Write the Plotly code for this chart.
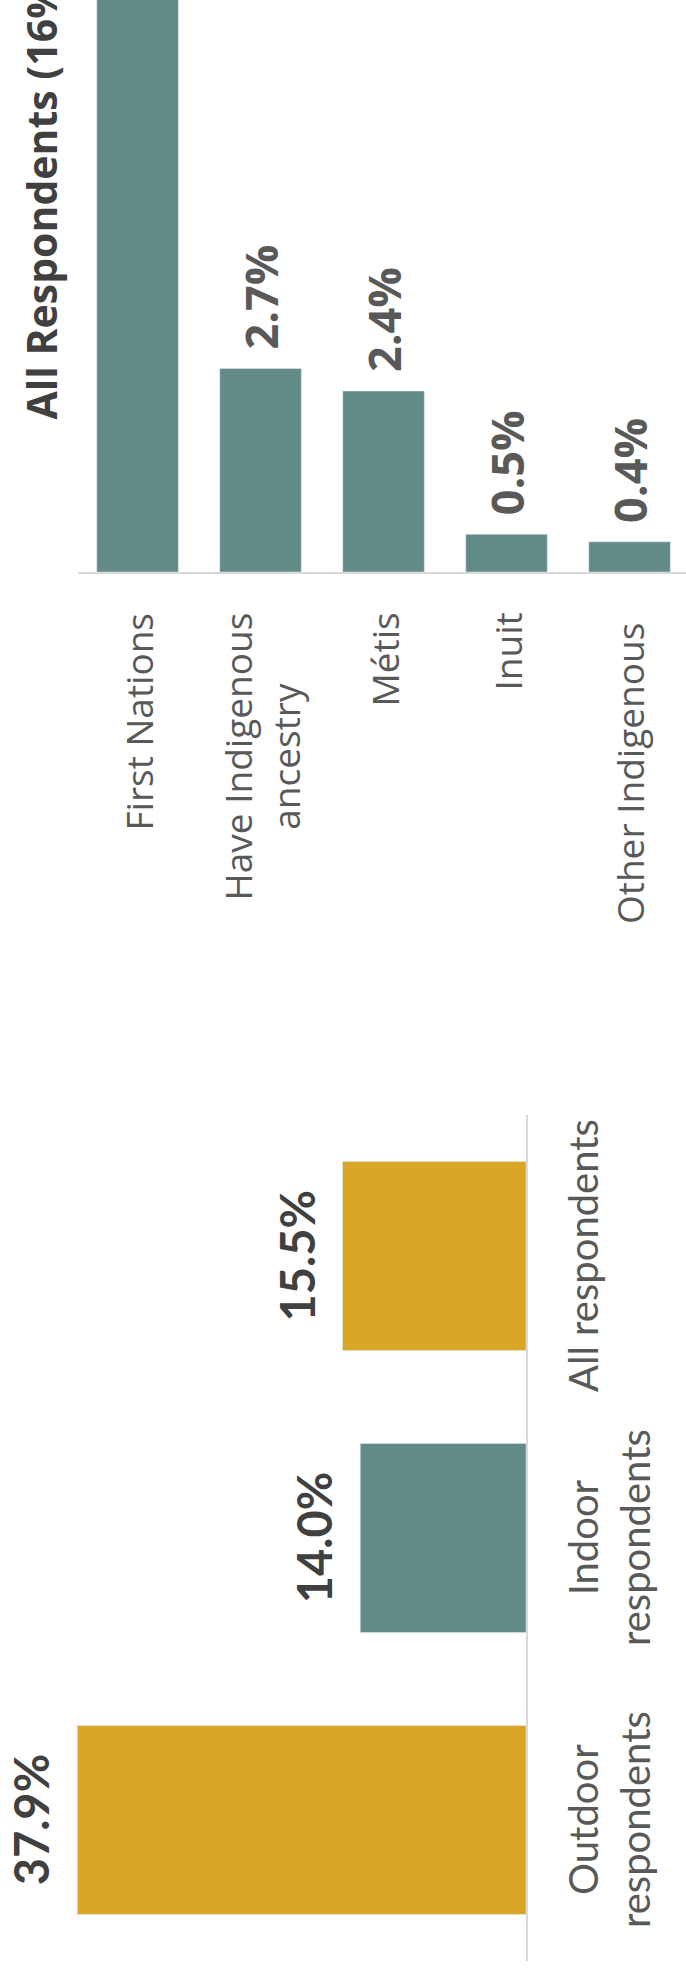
import plotly.graph_objects as go

# ---------------- data ----------------
title_text = "All Respondents (16%)"

top_categories = ["First Nations", "Have Indigenous ancestry", "Métis", "Inuit", "Other Indigenous"]
top_tick_text = ["First Nations", "Have Indigenous<br>ancestry", "Métis", "Inuit",
                 "Other Indigenous\u00a0"]
top_values = [9.5, 2.7, 2.4, 0.5, 0.4]
top_value_labels = ["9.5%", "2.7%", "2.4%", "0.5%", "0.4%"]

bottom_categories = ["Outdoor respondents", "Indoor respondents", "All respondents"]
bottom_tick_text = ["Outdoor<br>respondents", "Indoor<br>respondents", "All respondents"]
bottom_values = [37.9, 14.0, 15.5]
bottom_value_labels = ["37.9%", "14.0%", "15.5%"]

# ---------------- style ----------------
W, H = 686, 1969
TEAL = "#628A87"
GOLD = "#D9A628"
AXIS = "#D9D9D9"
DARK = "#404040"
GREY = "#595959"
bottom_colors = [GOLD, TEAL, GOLD]

fig = go.Figure()
fig.add_trace(go.Bar(
    x=top_categories, y=top_values, marker_color=TEAL, width=0.663,
    xaxis="x", yaxis="y", hoverinfo="skip", showlegend=False,
))
fig.add_trace(go.Bar(
    x=bottom_values, y=bottom_categories, orientation="h", marker_color=bottom_colors,
    width=0.67, xaxis="x2", yaxis="y2", hoverinfo="skip", showlegend=False,
))

ann = []
# title (rotated)
ann.append(dict(text=f"<b>{title_text}</b>", x=40 / W, y=1 - 422 / H, xref="paper", yref="paper",
                xanchor="center", yanchor="bottom", textangle=-90, showarrow=False,
                font=dict(family="Open Sans", size=41, color=DARK)))
# top category labels
for k, t in zip(top_categories, top_tick_text):
    ann.append(dict(text=t, x=k, xref="x", y=1 - 611 / H, yref="paper", xanchor="center",
                    yanchor="top", textangle=-90, align="center", showarrow=False,
                    font=dict(family="Open Sans", size=37, color=GREY)))
# top value labels
for k, v, lab in zip(top_categories, top_values, top_value_labels):
    ann.append(dict(text=f"<b>{lab}</b>", x=k, xref="x", y=v, yref="y", xanchor="center",
                    yanchor="bottom", yshift=17, textangle=-90, showarrow=False,
                    font=dict(family="Open Sans", size=45, color=GREY)))
# bottom category labels
for k, t in zip(bottom_categories, bottom_tick_text):
    ann.append(dict(text=t, x=557 / W, xref="paper", y=k, yref="y2", xanchor="left",
                    yanchor="middle", textangle=-90, align="center", showarrow=False,
                    font=dict(family="Lato", size=40, color=GREY)))
# bottom value labels
for k, v, lab in zip(bottom_categories, bottom_values, bottom_value_labels):
    ann.append(dict(text=f"<b>{lab}</b>", x=v, xref="x2", y=k, yref="y2", xanchor="right",
                    yanchor="middle", xshift=-16, textangle=-90, showarrow=False,
                    font=dict(family="Lato", size=47, color=DARK)))

fig.update_layout(
    width=W, height=H, margin=dict(l=0, r=0, t=0, b=0),
    paper_bgcolor="white", plot_bgcolor="white",
    annotations=ann, hovermode=False,
    xaxis=dict(domain=[78 / W, 1], range=[-0.484, 4.459], anchor="y",
               showline=True, linecolor=AXIS, linewidth=2, showticklabels=False,
               ticks="", showgrid=False, zeroline=False, fixedrange=True),
    yaxis=dict(domain=[1 - 572 / H, 1], range=[0, 7.586], anchor="x", visible=False,
               fixedrange=True),
    xaxis2=dict(domain=[0, 526 / W], range=[44.43, 0], anchor="y2", visible=False,
                fixedrange=True),
    yaxis2=dict(domain=[1 - 1961 / H, 1 - 1115 / H], range=[-0.5, 2.5], anchor="x2",
                side="right", showline=True, linecolor=AXIS, linewidth=2,
                showticklabels=False, ticks="", showgrid=False, zeroline=False,
                fixedrange=True),
)

fig.write_html("out.html", config={"displayModeBar": False})
